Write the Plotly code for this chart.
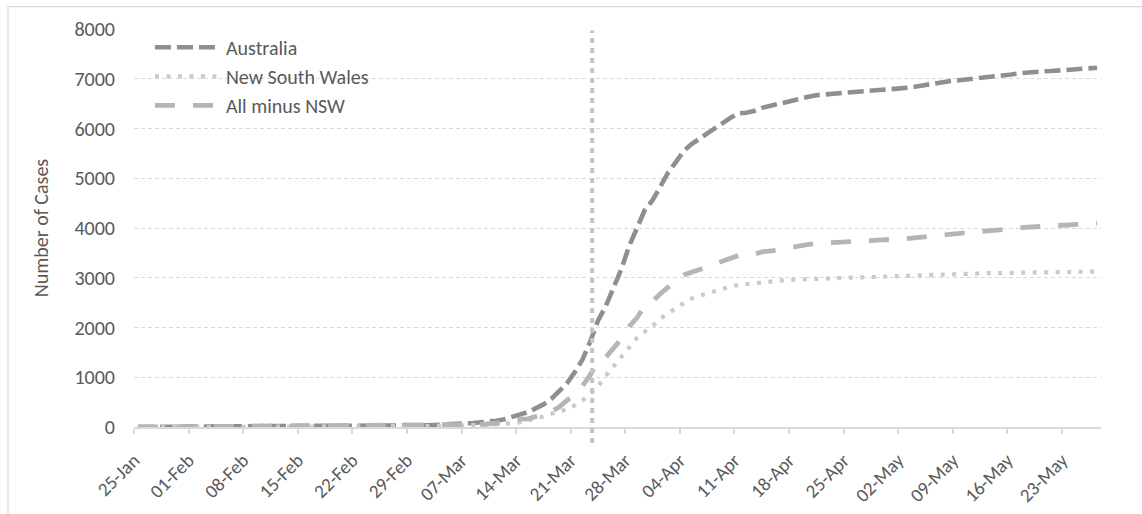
import pandas as pd
import plotly.graph_objects as go

# Cumulative confirmed COVID-19 cases, daily from 25 Jan 2020 to 27 May 2020
START_DATE = "2020-01-25"
END_DATE = "2020-05-27"

australia = [
    # Jan 25-31
    1, 4, 5, 5, 6, 9, 9,
    # Feb 1-29
    12, 12, 12, 13, 13, 14, 15, 15, 15, 15, 15, 15, 15, 15, 15, 15, 15, 15, 15, 15,
    15, 17, 22, 22, 22, 22, 23, 23, 25,
    # Mar 1-31
    27, 33, 39, 52, 55, 63, 74, 80, 92, 112, 127, 156, 197, 249, 298, 375, 454, 565,
    709, 874, 1098, 1353, 1716, 2136, 2431, 2805, 3179, 3639, 3984, 4361, 4559,
    # Apr 1-30
    4862, 5116, 5330, 5550, 5687, 5797, 5895, 6010, 6108, 6215, 6303, 6315, 6351, 6415,
    6450, 6490, 6530, 6580, 6620, 6640, 6670, 6685, 6700, 6715, 6730, 6745, 6755, 6765,
    6775, 6782,
    # May 1-27
    6790, 6810, 6825, 6850, 6880, 6905, 6930, 6950, 6965, 6980, 6995, 7010, 7030, 7045,
    7060, 7085, 7110, 7128, 7140, 7148, 7155, 7165, 7180, 7190, 7200, 7210, 7220,
]

new_south_wales = [
    # Jan 25-31
    1, 3, 4, 4, 4, 4, 4,
    # Feb 1-29
    4, 4, 4, 4, 4, 4, 4, 4, 4, 4, 4, 4, 4, 4, 4, 4, 4, 4, 4, 4,
    4, 4, 4, 4, 4, 4, 4, 4, 4,
    # Mar 1-31
    6, 9, 15, 22, 22, 28, 28, 36, 40, 47, 55, 65, 78, 92, 134, 171, 210, 267,
    307, 353, 436, 533, 669, 818, 1029, 1219, 1405, 1617, 1791, 1918, 2032,
    # Apr 1-30
    2182, 2298, 2389, 2493, 2580, 2637, 2686, 2734, 2773, 2822, 2857, 2870, 2886, 2897,
    2926, 2936, 2957, 2963, 2969, 2971, 2976, 2982, 2994, 2998, 3002, 3004, 3009, 3016,
    3018, 3025,
    # May 1-27
    3030, 3033, 3036, 3042, 3048, 3053, 3059, 3065, 3071, 3078, 3083, 3088, 3091, 3094,
    3097, 3101, 3105, 3108, 3110, 3112, 3113, 3115, 3117, 3119, 3121, 3123, 3125,
]

all_minus_nsw = [
    # Jan 25-31
    0, 1, 1, 1, 2, 5, 5,
    # Feb 1-29
    8, 8, 8, 9, 9, 10, 11, 11, 11, 11, 11, 11, 11, 11, 11, 11, 11, 11, 11, 11,
    11, 13, 18, 18, 18, 18, 19, 19, 21,
    # Mar 1-31
    21, 24, 24, 30, 33, 35, 46, 44, 52, 65, 72, 91, 119, 157, 164, 204, 244, 298,
    402, 521, 662, 820, 1047, 1318, 1402, 1586, 1774, 2022, 2193, 2443, 2527,
    # Apr 1-30
    2680, 2818, 2941, 3057, 3107, 3160, 3209, 3276, 3335, 3393, 3446, 3450, 3470, 3518,
    3530, 3555, 3575, 3615, 3650, 3670, 3690, 3700, 3710, 3720, 3730, 3740, 3748, 3755,
    3760, 3765,
    # May 1-27
    3760, 3777, 3789, 3808, 3832, 3852, 3871, 3885, 3894, 3902, 3912, 3922, 3939, 3951,
    3963, 3984, 4005, 4020, 4030, 4036, 4042, 4050, 4063, 4071, 4079, 4087, 4095,
]

series_names = ["Australia", "New South Wales", "All minus NSW"]
y_ticks = [0, 1000, 2000, 3000, 4000, 5000, 6000, 7000, 8000]

# Date marked by the vertical reference line
RESTRICTIONS_DATE = "2020-03-23 18:00"

dates = pd.date_range(START_DATE, END_DATE, freq="D")
# Each day occupies one slot on the date axis; points sit in the middle of the slot
x_points = dates + pd.Timedelta(hours=12)

FONT = "Carlito, Lato, 'Liberation Sans', sans-serif"
TEXT_GREY = "#595959"
GRID_GREY = "#d9d9d9"

styles = [
    dict(color="#8f8f91", width=4.6, dash="16px,6px"),
    dict(color="#cacaca", width=4.2, dash="4px,7.5px"),
    dict(color="#b5b5b5", width=4.8, dash="20px,18px"),
]

fig = go.Figure()
for i, (name, values, style) in enumerate(
    zip(series_names, [australia, new_south_wales, all_minus_nsw], styles)
):
    fig.add_trace(
        go.Scatter(
            x=x_points,
            y=values,
            name=name,
            mode="lines",
            line=style,
            legendgroup=f"g{i}",
            hoverinfo="x+y+name",
        )
    )

# Vertical dotted reference line, reaching slightly below the axis
fig.add_shape(
    type="line",
    xref="x",
    yref="paper",
    x0=RESTRICTIONS_DATE,
    x1=RESTRICTIONS_DATE,
    y0=-0.04,
    y1=0.996,
    line=dict(color="#c4c4c4", width=4, dash="5px,5px"),
    layer="above",
)

# Chart-area border
fig.add_shape(
    type="rect",
    xref="paper",
    yref="paper",
    x0=-0.1303,
    x1=1.2,
    y0=-0.4,
    y1=1.0561,
    line=dict(color=GRID_GREY, width=1.2),
    fillcolor="rgba(0,0,0,0)",
    layer="below",
)

fig.update_layout(
    width=1142,
    height=514,
    margin=dict(l=134, r=41, t=29, b=87),
    paper_bgcolor="white",
    plot_bgcolor="white",
    font=dict(family=FONT, color=TEXT_GREY, size=20),
    showlegend=True,
    legend=dict(
        x=0.0165,
        y=1.003,
        xanchor="left",
        yanchor="top",
        bgcolor="rgba(255,255,255,0)",
        font=dict(family=FONT, size=20, color=TEXT_GREY),
        tracegroupgap=0,
        itemwidth=66,
    ),
    xaxis=dict(
        type="date",
        range=[START_DATE, "2020-05-28"],
        tick0=START_DATE,
        dtick=7 * 24 * 3600 * 1000,
        tickformat="%d-%b",
        tickangle=-45,
        tickfont=dict(family=FONT, size=19, color=TEXT_GREY),
        ticklabelstandoff=8,
        showgrid=False,
        showline=True,
        linecolor=GRID_GREY,
        linewidth=1.5,
        ticks="outside",
        ticklen=5,
        tickcolor=GRID_GREY,
        tickwidth=1.5,
        zeroline=False,
        automargin=False,
    ),
    yaxis=dict(
        range=[0, 8000],
        tickvals=y_ticks,
        tickfont=dict(family=FONT, size=20, color=TEXT_GREY),
        showgrid=True,
        gridcolor=GRID_GREY,
        griddash="4px,3px",
        gridwidth=1,
        zeroline=False,
        showline=False,
        ticklabelstandoff=18,
        automargin=False,
        title=dict(
            text="Number of Cases",
            font=dict(family=FONT, size=20, color=TEXT_GREY),
            standoff=20,
        ),
    ),
)

fig.write_html("out.html")
